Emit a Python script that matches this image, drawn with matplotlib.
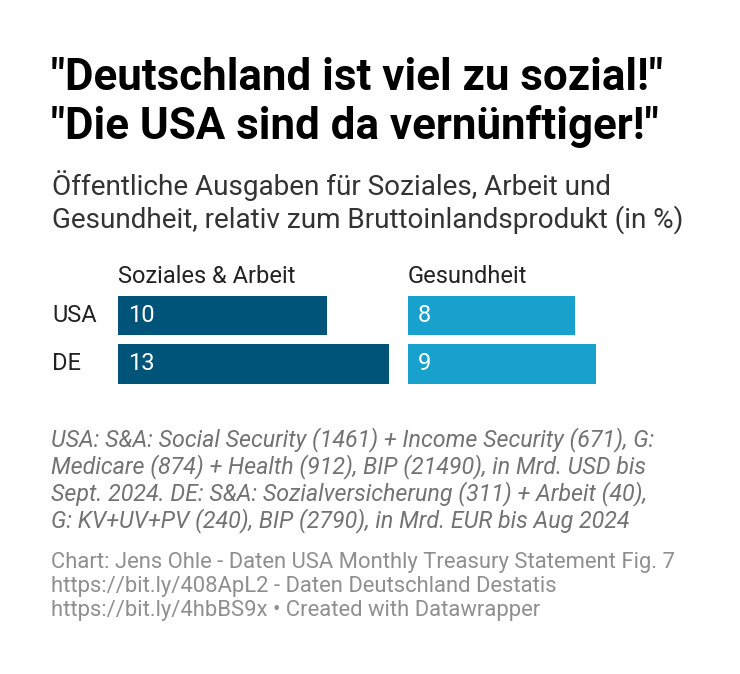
import matplotlib
matplotlib.use("Agg")
import matplotlib.pyplot as plt

plt.rcParams['font.family'] = ['Roboto', 'DejaVu Sans']

# data
countries = ["USA", "DE"]
categories = ["Soziales & Arbeit", "Gesundheit"]
social_work = [10, 13]
health = [8, 9]
title_lines = ['"Deutschland ist viel zu sozial!"', '"Die USA sind da vernünftiger!"']
subtitle_lines = ["Öffentliche Ausgaben für Soziales, Arbeit und",
                  "Gesundheit, relativ zum Bruttoinlandsprodukt (in %)"]
notes_lines = ["USA: S&A: Social Security (1461) + Income Security (671), G:",
               "Medicare (874) + Health (912), BIP (21490), in Mrd. USD bis",
               "Sept. 2024. DE: S&A: Sozialversicherung (311) + Arbeit (40),",
               "G: KV+UV+PV (240), BIP (2790), in Mrd. EUR bis Aug 2024"]
source_lines = ["Chart: Jens Ohle - Daten USA Monthly Treasury Statement Fig. 7",
                "https://bit.ly/408ApL2 - Daten Deutschland Destatis",
                "https://bit.ly/4hbBS9x \u2022 Created with Datawrapper"]

W, H = 740, 674
fig = plt.figure(figsize=(W / 100, H / 100), dpi=100)
fig.patch.set_facecolor("white")


def fx(px):
    return px / W


def fy(px):
    return 1 - px / H


# title
for i, line in enumerate(title_lines):
    fig.text(fx(51), fy(90 + 49 * i), line, fontsize=31.6, fontweight="bold",
             color="#000000", va="baseline", ha="left")

for i, line in enumerate(subtitle_lines):
    fig.text(fx(52), fy(195 + 33 * i), line, fontsize=20.1,
             color="#333333", va="baseline", ha="left")

# bars
px_per_unit = 20.85
row_gap = 48.5
top = 315.5 - row_gap / 2
height_px = row_gap * len(countries)
columns = [(118, social_work, "#005479"), (408, health, "#18a1cd")]
axes = []
for (left, vals, color), cat in zip(columns, categories):
    width_px = max(vals) * px_per_unit
    ax = fig.add_axes([fx(left), fy(top + height_px), width_px / W, height_px / H])
    ax.barh(range(len(countries)), vals, height=39.5 / row_gap, color=color)
    ax.set_xlim(0, max(vals))
    ax.set_ylim(len(countries) - 0.5, -0.5)
    ax.axis("off")
    for i, v in enumerate(vals):
        ax.annotate(str(v), xy=(0, i), xytext=(10 * 0.72, 0), textcoords="offset points",
                    ha="left", va="center", color="white", fontsize=17)
    fig.text(fx(left), fy(283), cat, fontsize=17, color="#222222",
             va="baseline", ha="left")
    axes.append(ax)

for i, c in enumerate(countries):
    axes[0].annotate(c, xy=(0, i), xycoords=axes[0].get_yaxis_transform(),
                     xytext=(-66 * 0.72, 0), textcoords="offset points",
                     ha="left", va="center", color="#222222", fontsize=17)

# notes
for i, line in enumerate(notes_lines):
    fig.text(fx(51), fy(446 + 27 * i), line, fontsize=16.75, fontstyle="italic",
             color="#737373", va="baseline", ha="left")

for i, line in enumerate(source_lines):
    fig.text(fx(51), fy(568 + 24 * i), line, fontsize=15.8, color="#8f8f8f",
             va="baseline", ha="left")

fig.savefig("out.png", dpi=100, facecolor="white")
